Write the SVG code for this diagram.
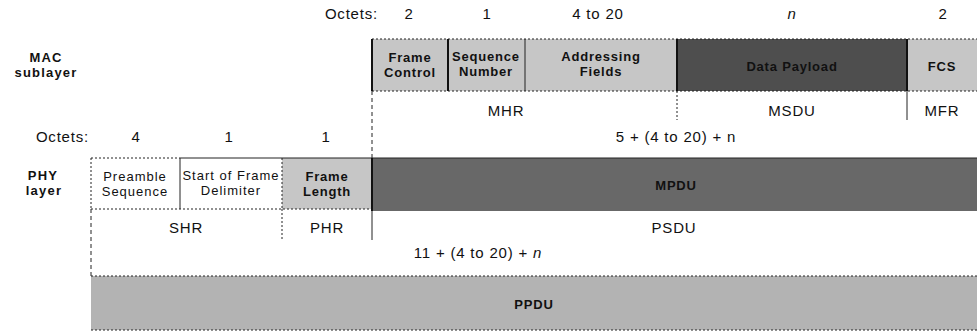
<svg xmlns="http://www.w3.org/2000/svg" width="977" height="335" viewBox="0 0 977 335">
<style>
text{font-family:"Liberation Sans",Arial,sans-serif;font-size:15px;letter-spacing:0.8px;fill:#111;text-anchor:middle}
.lbl{font-weight:bold;font-size:13px;letter-spacing:1.2px}
.oct{text-anchor:end}
.bx{font-size:13px;font-weight:bold;letter-spacing:0.8px}
.two{font-size:13px;letter-spacing:1px}
.light{fill:#c6c6c6}
.white{fill:#ffffff}
.dark{fill:#4e4e4e}
.mid{fill:#686868}
.ppdu{fill:#b3b3b3}
.sep{stroke:#111;stroke-width:2;fill:none}
.thin{stroke:#222;stroke-width:1;fill:none}
.dot{stroke:#222;stroke-width:1;stroke-dasharray:2 2;fill:none}
.dash{stroke:#222;stroke-width:1;stroke-dasharray:4 3;fill:none}
</style>

<g id="mac-label">
<text class="lbl" x="46" y="62">MAC</text>
<text class="lbl" x="46" y="77">sublayer</text>
</g>
<g id="phy-label">
<text class="lbl" x="43" y="180">PHY</text>
<text class="lbl" x="44" y="195">layer</text>
</g>

<g id="octets-mac">
<text class="oct" x="378" y="19">Octets:</text>
<text x="409" y="19">2</text>
<text x="487" y="19">1</text>
<text x="598" y="19">4 to 20</text>
<text x="792" y="19" font-style="italic">n</text>
<text x="943" y="19">2</text>
</g>

<g id="frame-control">
<rect class="light" x="372" y="39" width="76" height="52"/>
<text class="bx" x="410" y="62">Frame</text>
<text class="bx" x="410" y="77">Control</text>
</g>
<g id="sequence-number">
<rect class="light" x="448" y="39" width="77" height="52"/>
<text class="bx" x="486" y="61" font-size="12.5" letter-spacing="0">Sequence</text>
<text class="bx" x="486" y="76" font-size="12.5" letter-spacing="0">Number</text>
</g>
<g id="addressing-fields">
<rect class="light" x="525" y="39" width="152" height="52"/>
<text class="bx" x="601" y="61">Addressing</text>
<text class="bx" x="601" y="76">Fields</text>
</g>
<g id="data-payload">
<rect class="dark" x="677" y="39" width="230" height="52"/>
<text class="bx" x="792" y="71">Data Payload</text>
</g>
<g id="fcs">
<rect class="light" x="907" y="39" width="70" height="52"/>
<text class="bx" x="942" y="71">FCS</text>
</g>

<g id="mac-groups">
<text x="506" y="116">MHR</text>
<text x="792" y="116">MSDU</text>
<text x="942" y="116">MFR</text>
</g>

<g id="octets-phy">
<text class="oct" x="89" y="142">Octets:</text>
<text x="136" y="142">4</text>
<text x="229" y="142">1</text>
<text x="326" y="142">1</text>
<text x="676" y="142">5 + (4 to 20) + n</text>
</g>

<g id="preamble-sequence">
<rect class="white" x="91" y="158" width="89" height="51"/>
<text class="two" x="135" y="181">Preamble</text>
<text class="two" x="135" y="196">Sequence</text>
</g>
<g id="start-of-frame-delimiter">
<rect class="white" x="180" y="158" width="102" height="51"/>
<text class="two" x="231" y="180" letter-spacing="0">Start of Frame</text>
<text class="two" x="231" y="195" letter-spacing="0.3">Delimiter</text>
</g>
<g id="frame-length">
<rect class="light" x="282" y="158" width="90" height="51"/>
<text class="bx" x="327" y="181">Frame</text>
<text class="bx" x="327" y="196">Length</text>
</g>
<g id="mpdu">
<rect class="mid" x="372" y="158" width="605" height="53"/>
<text class="bx" x="676" y="190">MPDU</text>
</g>

<g id="phy-groups">
<text x="186" y="233">SHR</text>
<text x="327" y="233">PHR</text>
<text x="674" y="233">PSDU</text>
<text x="478" y="258">11 + (4 to 20) + <tspan font-style="italic">n</tspan></text>
</g>

<g id="ppdu">
<rect class="ppdu" x="91" y="276" width="886" height="54"/>
<text class="bx" x="534" y="309">PPDU</text>
</g>

<g id="connectors">
<line class="dot" x1="372" y1="39" x2="977" y2="39"/>
<line class="dot" x1="372" y1="91" x2="977" y2="91"/>
<line class="sep" x1="372" y1="39" x2="372" y2="91"/>
<line class="sep" x1="448" y1="39" x2="448" y2="91"/>
<line class="thin" x1="525" y1="39" x2="525" y2="91" stroke-width="1.5"/>
<line class="sep" x1="677" y1="39" x2="677" y2="91" stroke-width="2.5"/>
<line class="sep" x1="907" y1="39" x2="907" y2="91" stroke-width="2.5"/>
<line class="dash" x1="372" y1="91" x2="372" y2="158"/>
<line class="dot" x1="677" y1="91" x2="677" y2="120"/>
<line class="thin" x1="907" y1="91" x2="907" y2="120" stroke-width="1.5"/>
<line class="dot" x1="91" y1="158" x2="180" y2="158"/>
<line class="thin" x1="180" y1="158" x2="977" y2="158" stroke-width="1.5"/>
<line class="dot" x1="91" y1="209" x2="372" y2="209"/>
<line class="dot" x1="91" y1="158" x2="91" y2="209"/>
<line class="thin" x1="180" y1="158" x2="180" y2="209" stroke-width="1.5"/>
<line class="dot" x1="282" y1="158" x2="282" y2="209"/>
<line class="sep" x1="372" y1="158" x2="372" y2="211"/>
<line class="dash" x1="91" y1="209" x2="91" y2="276"/>
<line class="dot" x1="282" y1="209" x2="282" y2="240"/>
<line class="thin" x1="372" y1="211" x2="372" y2="240"/>
<line class="dot" x1="91" y1="276" x2="977" y2="276"/>
<line class="dot" x1="91" y1="330" x2="977" y2="330"/>
</g>
</svg>
